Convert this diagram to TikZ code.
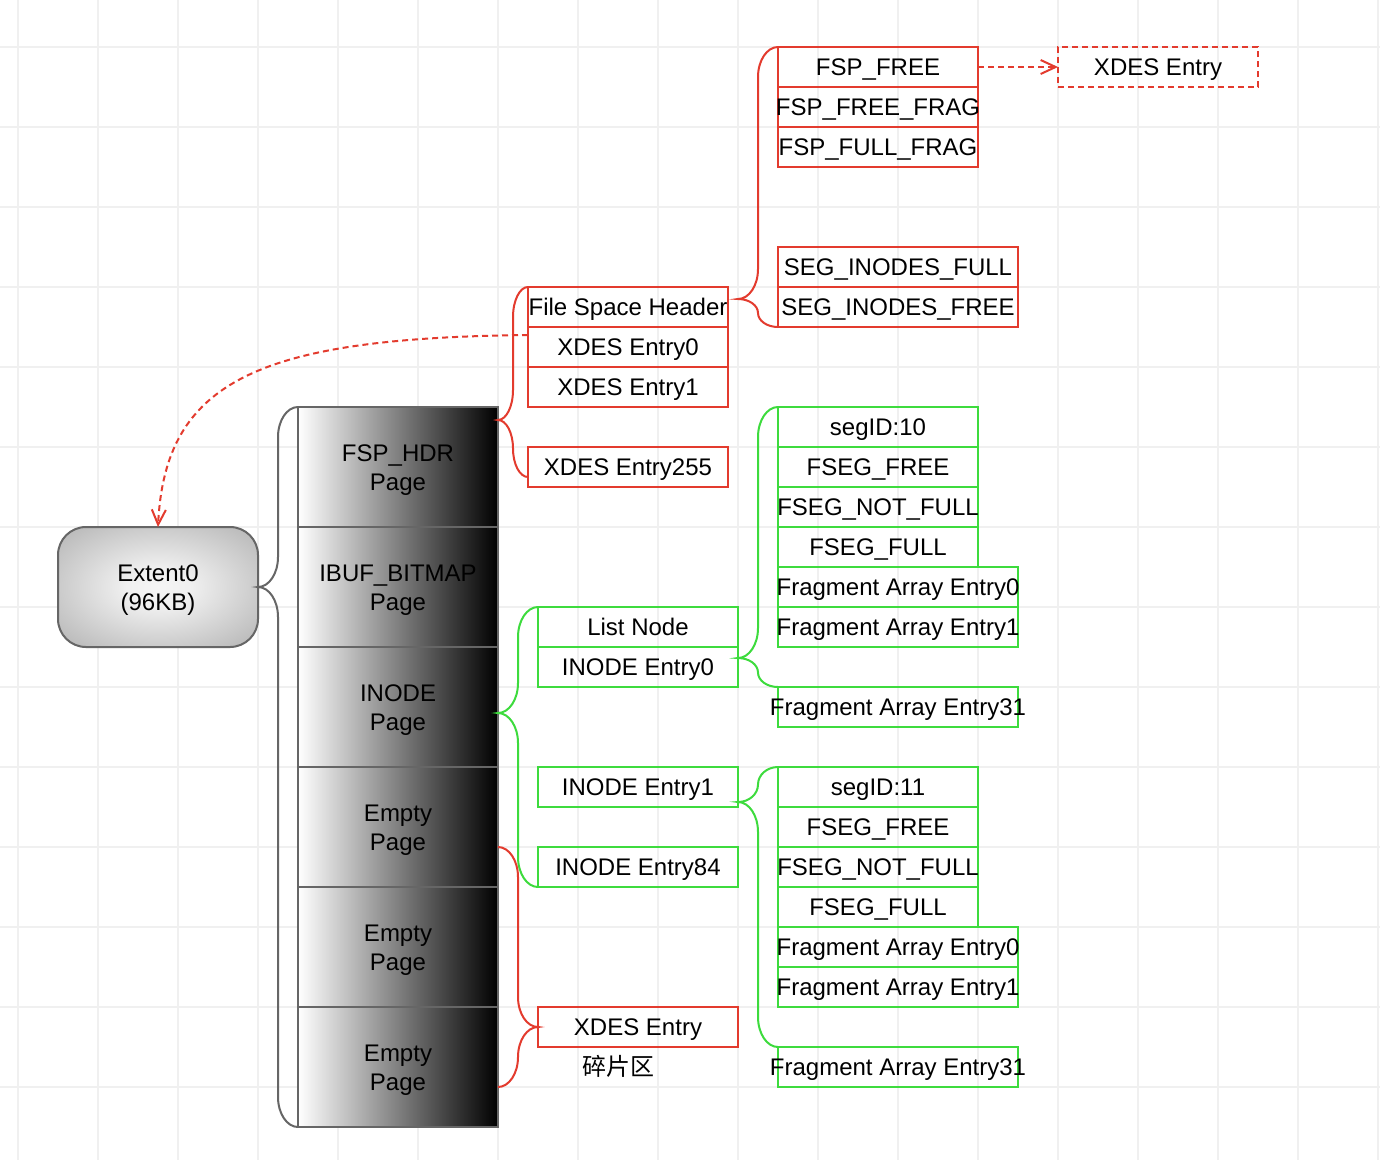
\documentclass[tikz,border=0pt]{standalone}
\usepackage{fontspec}
\setmainfont{Liberation Sans}
\newfontfamily\cjkfont{Noto Sans CJK SC}
\usetikzlibrary{arrows.meta,calc}
\definecolor{myred}{HTML}{E33B2E}
\definecolor{mygreen}{HTML}{3DDB3D}
\definecolor{edgegrey}{HTML}{666666}
\definecolor{gridgrey}{HTML}{F0F0F0}
\pgfdeclareradialshading{extshade}{\pgfpoint{0bp}{0bp}}{%
  color(0bp)=(white!96!black); color(8bp)=(white!94!black); color(50bp)=(black!42); color(72bp)=(black!52)}
\newcommand\zw[1]{\makebox[0pt]{#1}}
\newcommand\cbrace[4]{%
  \draw[#1] let \p1=(#2), \p2=(#3), \p3=(#4),
    \n4={((\x3)-(\x1))/2},
    \n2={min(30,((\y1)-(\y3))/2)},
    \n3={min(30,((\y3)-(\y2))/2)} in
    (\p1) .. controls ({\x1+0.552*(\n4)*1pt},\y1) and ({\x1+(\n4)*1pt},{\y1-0.448*(\n2)*1pt})
       .. ({\x1+(\n4)*1pt},{\y1-(\n2)*1pt})
    -- ({\x1+(\n4)*1pt},{\y3+(\n2)*1pt})
       .. controls ({\x1+(\n4)*1pt},{\y3+0.448*(\n2)*1pt}) and ({\x3-0.552*(\n4)*1pt},\y3) .. (\p3)
       .. controls ({\x3-0.552*(\n4)*1pt},\y3) and ({\x1+(\n4)*1pt},{\y3-0.448*(\n3)*1pt})
       .. ({\x1+(\n4)*1pt},{\y3-(\n3)*1pt})
    -- ({\x1+(\n4)*1pt},{\y2+(\n3)*1pt})
       .. controls ({\x1+(\n4)*1pt},{\y2+0.448*(\n3)*1pt}) and ({\x2+0.552*(\n4)*1pt},\y2) .. (\p2);}
\begin{document}
\begin{tikzpicture}[x=1pt,y=-1pt,
  lbl/.style={font=\fontsize{24}{29}\selectfont, text height=17.2pt, text depth=0pt, inner sep=0pt, outer sep=0pt},
  rbox/.style={lbl, draw=myred, line width=2pt, minimum width=200pt, minimum height=40pt},
  gbox/.style={lbl, draw=mygreen, line width=2pt, minimum width=200pt, minimum height=40pt},
  wide/.style={minimum width=240pt},
  pagebox/.style={draw=edgegrey, line width=2pt, minimum width=200pt, minimum height=120pt,
    left color=white, right color=black, inner sep=0pt, outer sep=0pt, align=center,
    font=\fontsize{24}{29}\selectfont, text height=46.2pt, text depth=0pt},
  extbox/.style={draw=edgegrey, line width=2pt, rounded corners=28pt, minimum width=200pt,
    minimum height=120pt, shading=extshade, inner sep=0pt, outer sep=0pt,
    align=center, font=\fontsize{24}{29}\selectfont, text height=46.2pt, text depth=0pt},
  greybrace/.style={draw=edgegrey, line width=2pt},
  redbrace/.style={draw=myred, line width=2pt},
  greenbrace/.style={draw=mygreen, line width=2pt},
  dashln/.style={draw=myred, line width=2pt, dash pattern=on 6pt off 4pt},
  opentip/.style={-{Straight Barb[length=15pt,width=14pt]}}
]
\useasboundingbox (0,0) rectangle (1380,1160);
\fill[white] (0,0) rectangle (1380,1160);
% grid
\foreach \gx in {18,98,...,1378} \draw[gridgrey, line width=2pt] (\gx,0) -- (\gx,1160);
\foreach \gy in {47,127,...,1087} \draw[gridgrey, line width=2pt] (0,\gy) -- (1380,\gy);

% extent
\node[extbox] (ext) at (158,587) {Extent0\\(96KB)};

% pages
\node[pagebox] (pg1) at (398,467) {FSP\_HDR\\Page};
\node[pagebox] (pg2) at (398,587) {IBUF\_BITMAP\\Page};
\node[pagebox] (pg3) at (398,707) {INODE\\Page};
\node[pagebox] (pg4) at (398,827) {Empty\\Page};
\node[pagebox] (pg5) at (398,947) {Empty\\Page};
\node[pagebox] (pg6) at (398,1067) {Empty\\Page};

% file space header group
\node[rbox] (fsh) at (628,307) {\zw{File Space Header}};
\node[rbox] (xe0) at (628,347) {\zw{XDES Entry0}};
\node[rbox] (xe1) at (628,387) {\zw{XDES Entry1}};
\node[rbox] (xe255) at (628,467) {\zw{XDES Entry255}};

% FSP lists
\node[rbox] (fspfree) at (878,67) {\zw{FSP\_FREE}};
\node[rbox] (fspfreefrag) at (878,107) {\zw{FSP\_FREE\_FRAG}};
\node[rbox] (fspfullfrag) at (878,147) {\zw{FSP\_FULL\_FRAG}};
\node[rbox, wide] (segfull) at (898,267) {\zw{SEG\_INODES\_FULL}};
\node[rbox, wide] (segfree) at (898,307) {\zw{SEG\_INODES\_FREE}};
\node[rbox, dash pattern=on 6pt off 4pt] (xdesdash) at (1158,67) {\zw{XDES Entry}};

% inode page entries
\node[gbox] (listnode) at (638,627) {\zw{List Node}};
\node[gbox] (ie0) at (638,667) {\zw{INODE Entry0}};
\node[gbox] (ie1) at (638,787) {\zw{INODE Entry1}};
\node[gbox] (ie84) at (638,867) {\zw{INODE Entry84}};

% fragment area
\node[rbox] (xdesfrag) at (638,1027) {\zw{XDES Entry}};
\node[lbl] (fraglbl) at (618,1067) {\cjkfont 碎片区};

% segment 10
\node[gbox] (seg10) at (878,427) {\zw{segID:10}};
\node[gbox] (fsegfreeA) at (878,467) {\zw{FSEG\_FREE}};
\node[gbox] (fsegnotA) at (878,507) {\zw{FSEG\_NOT\_FULL}};
\node[gbox] (fsegfullA) at (878,547) {\zw{FSEG\_FULL}};
\node[gbox, wide] (faeA0) at (898,587) {\zw{Fragment Array Entry0}};
\node[gbox, wide] (faeA1) at (898,627) {\zw{Fragment Array Entry1}};
\node[gbox, wide] (faeA31) at (898,707) {\zw{Fragment Array Entry31}};

% segment 11
\node[gbox] (seg11) at (878,787) {\zw{segID:11}};
\node[gbox] (fsegfreeB) at (878,827) {\zw{FSEG\_FREE}};
\node[gbox] (fsegnotB) at (878,867) {\zw{FSEG\_NOT\_FULL}};
\node[gbox] (fsegfullB) at (878,907) {\zw{FSEG\_FULL}};
\node[gbox, wide] (faeB0) at (898,947) {\zw{Fragment Array Entry0}};
\node[gbox, wide] (faeB1) at (898,987) {\zw{Fragment Array Entry1}};
\node[gbox, wide] (faeB31) at (898,1067) {\zw{Fragment Array Entry31}};

% brace tips and free ends
\coordinate (tipA) at (498,420);
\coordinate (endA) at (528,477);
\coordinate (tipB) at (738,299);
\coordinate (tipC) at (498,713);
\coordinate (tipD) at (738,658);
\coordinate (tipE) at (738,802);
\coordinate (endF1) at (498,847);
\coordinate (endF2) at (498,1087);

% braces
\cbrace{greybrace}{pg1.north west}{pg6.south west}{ext.east}
\cbrace{redbrace}{fsh.north west}{endA}{tipA}
\cbrace{redbrace}{fspfree.north west}{segfree.south west}{tipB}
\cbrace{greenbrace}{listnode.north west}{ie84.south west}{tipC}
\cbrace{greenbrace}{seg10.north west}{faeA31.north west}{tipD}
\cbrace{greenbrace}{seg11.north west}{faeB31.north west}{tipE}
\cbrace{redbrace}{endF1}{endF2}{xdesfrag.west}

% dashed arrows
\draw[dashln, opentip] ([yshift=-8pt]fsh.south west) .. controls (260,338) and (165,380) .. (ext.north);
\draw[dashln, opentip] (fspfree.east) -- (xdesdash.west);
\end{tikzpicture}
\end{document}
